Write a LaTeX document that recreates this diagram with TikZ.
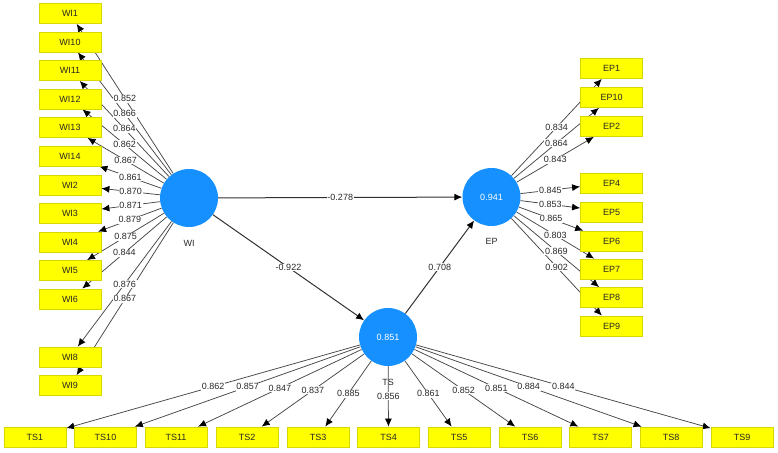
\documentclass[tikz,border=0pt]{standalone}
\usepackage{fontspec}
\setmainfont{Liberation Sans}
\usetikzlibrary{arrows.meta}
\pgfdeclarelayer{background}
\pgfsetlayers{background,main}
\definecolor{lvblue}{RGB}{22,144,255}
\definecolor{boxfill}{RGB}{255,255,0}
\definecolor{boxline}{RGB}{215,215,0}
\definecolor{edgegray}{RGB}{70,70,70}
\definecolor{txtdark}{RGB}{40,40,40}
\tikzset{
  indbox/.style={draw=boxline, fill=boxfill, line width=0.8pt, minimum width=62pt, minimum height=20pt, inner sep=0pt, font=\fontsize{9}{10}\selectfont, text=txtdark},
  latent/.style={circle, fill=lvblue, minimum size=58pt, inner sep=0pt, text=white, font=\fontsize{9}{10}\selectfont},
  lvname/.style={font=\fontsize{9}{10}\selectfont, text=txtdark},
  arr/.style={draw=edgegray, line width=0.75pt, -{Latex[length=8pt,width=7pt,color=black]}},
  innerarr/.style={draw=edgegray!70!black, line width=1pt, -{Latex[length=8pt,width=7pt,color=black]}},
  lbl/.style={fill=white, inner sep=0.8pt, font=\fontsize{9}{10}\selectfont, text=txtdark}
}
\newcommand\mylink[4][arr]{%
  \begin{pgfonlayer}{background}\draw[#1] (#2) -- (#3);\end{pgfonlayer}%
  \path (#2) -- node[lbl]{#4} (#3);}
\begin{document}
\begin{tikzpicture}[x=1pt,y=-1pt]
\useasboundingbox (0,0) rectangle (778,452);
% latent variables
\node[latent] (WI) at (189,198) {};
\node[latent] (EP) at (491.5,197) {0.941};
\node[latent] (TS) at (388,337) {0.851};
\node[lvname] (WIn) at (189,243) {WI};
\node[lvname] (EPn) at (491.5,241) {EP};
\begin{pgfonlayer}{background}
\node[lvname] (TSn) at (388,382) {TS};
\end{pgfonlayer}
% WI indicators
\foreach \n/\y in {WI1/13.5,WI10/42,WI11/70.5,WI12/99,WI13/127.5,WI14/156,WI2/185,WI3/213,WI4/242,WI5/270.5,WI6/299,WI8/357,WI9/385.5}
  \node[indbox] (\n) at (70,\y) {\n};
% EP indicators
\foreach \n/\y in {EP1/68.5,EP10/97.5,EP2/126.5,EP4/183,EP5/212,EP6/241,EP7/269,EP8/297.5,EP9/326}
  \node[indbox] (\n) at (611.5,\y) {\n};
% TS indicators
\foreach \n/\x in {TS1/35,TS10/105.5,TS11/176,TS2/247,TS3/318,TS4/388.5,TS5/459,TS6/530,TS7/600.5,TS8/671,TS9/742}
  \node[indbox] (\n) at (\x,437) {\n};
% WI outer loadings
\mylink{WI}{WI1}{0.852}
\mylink{WI}{WI10}{0.866}
\mylink{WI}{WI11}{0.864}
\mylink{WI}{WI12}{0.862}
\mylink{WI}{WI13}{0.867}
\mylink{WI}{WI14}{0.861}
\mylink{WI}{WI2}{0.870}
\mylink{WI}{WI3}{0.871}
\mylink{WI}{WI4}{0.879}
\mylink{WI}{WI5}{0.875}
\mylink{WI}{WI6}{0.844}
\mylink{WI}{WI8}{0.876}
\mylink{WI}{WI9}{0.867}
% EP outer loadings
\mylink{EP}{EP1}{0.834}
\mylink{EP}{EP10}{0.864}
\mylink{EP}{EP2}{0.843}
\mylink{EP}{EP4}{0.845}
\mylink{EP}{EP5}{0.853}
\mylink{EP}{EP6}{0.865}
\mylink{EP}{EP7}{0.803}
\mylink{EP}{EP8}{0.869}
\mylink{EP}{EP9}{0.902}
% TS outer loadings
\mylink{TS}{TS1}{0.862}
\mylink{TS}{TS10}{0.857}
\mylink{TS}{TS11}{0.847}
\mylink{TS}{TS2}{0.837}
\mylink{TS}{TS3}{0.885}
\mylink{TS}{TS4}{0.856}
\mylink{TS}{TS5}{0.861}
\mylink{TS}{TS6}{0.852}
\mylink{TS}{TS7}{0.851}
\mylink{TS}{TS8}{0.884}
\mylink{TS}{TS9}{0.844}
% inner model
\mylink[innerarr]{WI}{EP}{-0.278}
\mylink[innerarr]{WI}{TS}{-0.922}
\mylink[innerarr]{TS}{EP}{0.708}
\end{tikzpicture}
\end{document}
